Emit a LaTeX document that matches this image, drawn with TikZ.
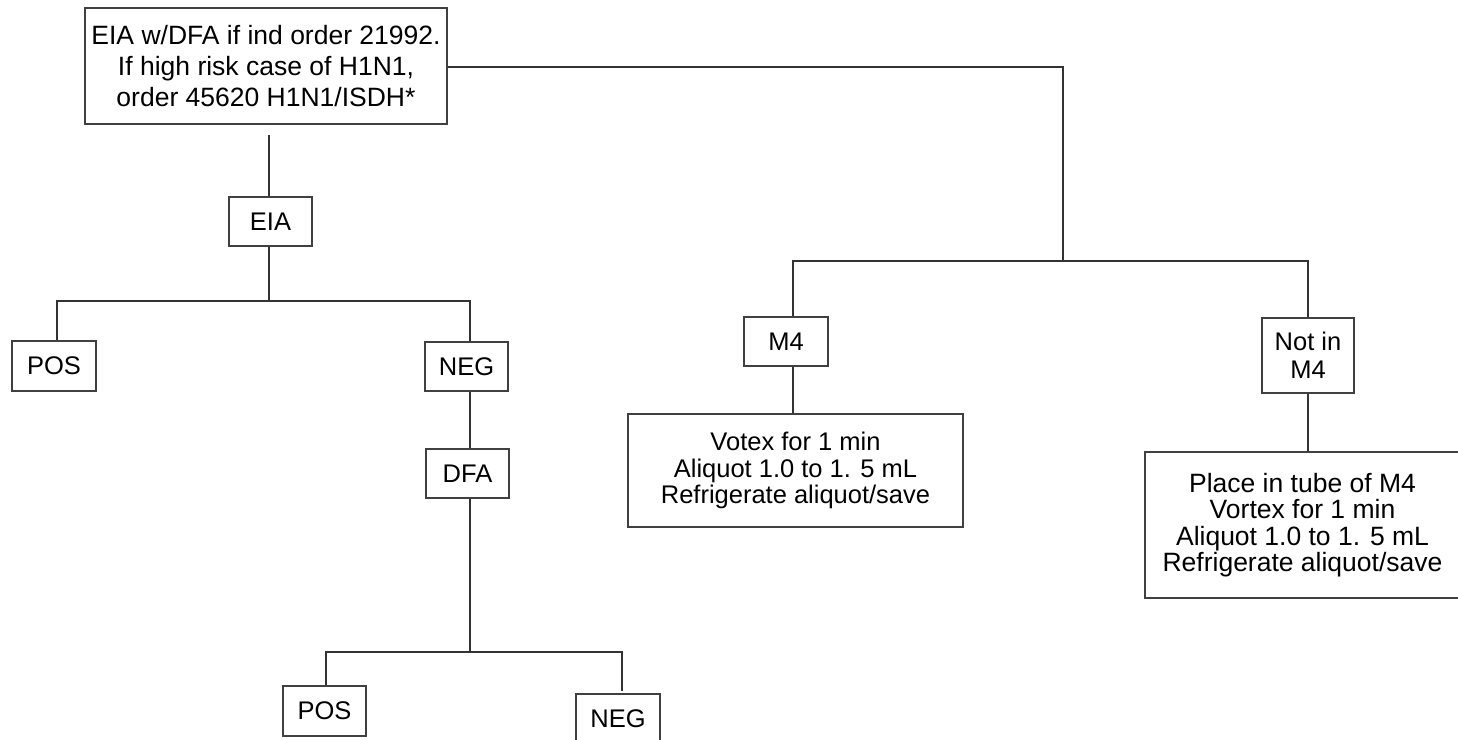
\documentclass[tikz,border=0pt]{standalone}
\usepackage{fontspec}
\setmainfont{Liberation Sans}
\begin{document}
\begin{tikzpicture}[x=1pt,y=-1pt,
  box/.style={draw=black!75,line width=1.1pt,rectangle,inner sep=0pt,align=center,
    font=\fontsize{25.5}{26.5}\selectfont},
  conn/.style={draw=black!80,line width=1.1pt}]
\useasboundingbox (0,0) rectangle (1458,739);
% nodes
\node[box,minimum width=362,minimum height=116,font=\fontsize{26.5}{31}\selectfont] (top) at (266,66)
  {EIA w/DFA if ind order 21992.\\If high risk case of H1N1,\\order 45620 H1N1/ISDH*};
\node[box,minimum width=83,minimum height=49] (eia) at (270.5,221.5) {EIA};
\node[box,minimum width=84,minimum height=50] (pos1) at (54,366) {POS};
\node[box,minimum width=83,minimum height=49] (neg1) at (466.5,366.5) {NEG};
\node[box,minimum width=83,minimum height=49] (dfa) at (467.5,473.5) {DFA};
\node[box,minimum width=83,minimum height=50] (pos2) at (324.5,711) {POS};
\node[box,minimum width=84,minimum height=50] (neg2) at (618,719) {NEG};
\node[box,minimum width=84,minimum height=49] (m4) at (786,341.5) {M4};
\node[box,minimum width=335,minimum height=113] (votex) at (795.5,470.5)
  {Votex for 1 min\\Aliquot 1.0 to 1. 5 mL\\Refrigerate aliquot/save};
\node[box,minimum width=92,minimum height=75,font=\fontsize{25.5}{28}\selectfont] (notm4) at (1308,355.5) {Not in\\M4};
\node[box,minimum width=315,minimum height=146,font=\fontsize{26.5}{26.5}\selectfont] (place) at (1302.5,525)
  {Place in tube of M4\\Vortex for 1 min\\Aliquot 1.0 to 1. 5 mL\\Refrigerate aliquot/save};
% junction coordinates
\coordinate (t1) at (269,135);
\coordinate (j1) at (269,301);
\coordinate (j1l) at (57,301);
\coordinate (j1r) at (470,301);
\coordinate (j2) at (470,652);
\coordinate (j2l) at (326,652);
\coordinate (j2r) at (622,652);
\coordinate (n2e) at (622,691);
\coordinate (r1) at (1063,67);
\coordinate (r2) at (1063,261);
\coordinate (r2l) at (793,261);
\coordinate (r2r) at (1308,261);
% connectors
\draw[conn] (t1) -- (t1 |- eia.north);
\draw[conn] (j1 |- eia.south) -- (j1);
\draw[conn] (j1l |- pos1.north) -- (j1l) -- (j1r) -- (j1r |- neg1.north);
\draw[conn] (j1r |- neg1.south) -- (j1r |- dfa.north);
\draw[conn] (j2 |- dfa.south) -- (j2);
\draw[conn] (j2l |- pos2.north) -- (j2l) -- (j2r) -- (n2e);
\draw[conn] (top.east |- r1) -- (r1) -- (r2);
\draw[conn] (r2l |- m4.north) -- (r2l) -- (r2r) -- (r2r |- notm4.north);
\draw[conn] (r2l |- m4.south) -- (r2l |- votex.north);
\draw[conn] (r2r |- notm4.south) -- (r2r |- place.north);
\end{tikzpicture}
\end{document}
